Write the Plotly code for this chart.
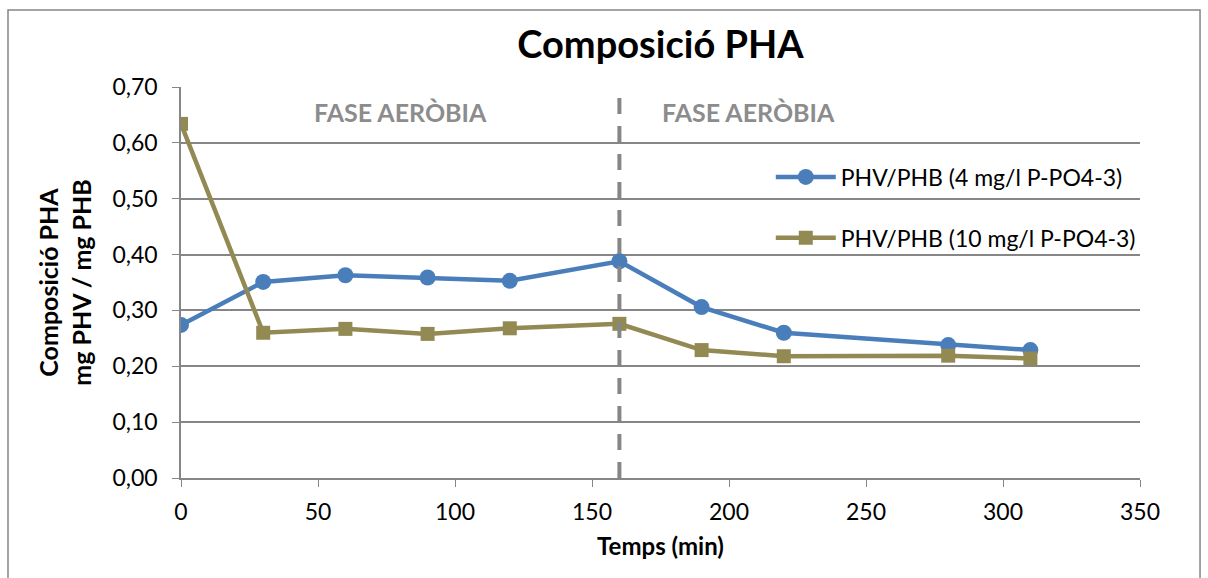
import plotly.graph_objects as go

temps = [0, 30, 60, 90, 120, 160, 190, 220, 280, 310]
phv_phb_4 = [0.274, 0.351, 0.363, 0.359, 0.353, 0.388, 0.306, 0.260, 0.238, 0.229]
phv_phb_10 = [0.634, 0.260, 0.267, 0.258, 0.268, 0.276, 0.229, 0.218, 0.219, 0.214]
series_names = ["PHV/PHB (4 mg/l P-PO4-3)", "PHV/PHB (10 mg/l P-PO4-3)"]
y_ticks = [0.0, 0.1, 0.2, 0.3, 0.4, 0.5, 0.6, 0.7]
y_tick_labels = ["0,00", "0,10", "0,20", "0,30", "0,40", "0,50", "0,60", "0,70"]
phase_labels = ["FASE AERÒBIA", "FASE AERÒBIA"]
phase_label_x = [80, 207]
phase_boundary = 160

FONT = "Lato, 'Open Sans', sans-serif"
BLUE = "#4a7ebb"
OLIVE = "#938953"
GRAY = "#868686"

fig = go.Figure()
fig.add_trace(go.Scatter(
    x=temps, y=phv_phb_4, name=series_names[0], mode="lines+markers",
    line=dict(color=BLUE, width=4.5), marker=dict(symbol="circle", size=16, color=BLUE),
    legendgroup="a"))
fig.add_trace(go.Scatter(
    x=temps, y=phv_phb_10, name=series_names[1], mode="lines+markers",
    line=dict(color=OLIVE, width=4.5), marker=dict(symbol="square", size=14, color=OLIVE),
    legendgroup="b"))

fig.add_shape(type="line", x0=phase_boundary, x1=phase_boundary, y0=0, y1=0.7,
              xref="x", yref="y", line=dict(color=GRAY, width=4, dash="16px,12px"))

for lbl, xx in zip(phase_labels, phase_label_x):
    fig.add_annotation(x=xx, y=0.655, xref="x", yref="y", text="<b>" + lbl + "</b>",
                       showarrow=False, font=dict(family=FONT, size=25, color="#8c8c8c"))

# chart border
fig.add_shape(type="rect", xref="paper", yref="paper",
              x0=-0.1804, x1=1.0626, y0=-0.27, y1=1.197,
              line=dict(color=GRAY, width=1.5), fillcolor="rgba(0,0,0,0)", layer="below")

fig.update_layout(
    width=1208, height=578,
    margin=dict(l=181, r=68, t=87, b=100),
    paper_bgcolor="white", plot_bgcolor="white",
    font=dict(family=FONT, size=23, color="black"),
    title=dict(text="<b>Composició PHA</b>", x=0.5, xanchor="center", xref="paper",
               y=0.922, yanchor="middle", font=dict(family=FONT, size=38, color="black")),
    legend=dict(x=0.615, y=0.825, xanchor="left", yanchor="top", bgcolor="rgba(0,0,0,0)",
                font=dict(family=FONT, size=23), tracegroupgap=28, itemwidth=60),
    showlegend=True,
)
fig.update_xaxes(range=[0, 350], dtick=50, tick0=0, showgrid=False, zeroline=False,
                 showline=True, linecolor=GRAY, linewidth=1.5, ticks="outside",
                 ticklen=7, tickcolor=GRAY, tickfont=dict(size=23), ticklabelstandoff=6,
                 title=dict(text="<b>Temps (min)</b>", font=dict(size=24), standoff=14))
fig.update_yaxes(range=[0, 0.7], tickvals=y_ticks, ticktext=y_tick_labels,
                 showgrid=True, gridcolor=GRAY, gridwidth=1.5, zeroline=False,
                 showline=True, linecolor=GRAY, linewidth=1.5, ticks="outside",
                 ticklen=7, tickcolor=GRAY, tickfont=dict(size=23), ticklabelstandoff=10,
                 title=dict(text="<b>Composició PHA<br>mg PHV / mg PHB</b>", font=dict(size=25),
                            standoff=14))

fig.write_html("out.html")
